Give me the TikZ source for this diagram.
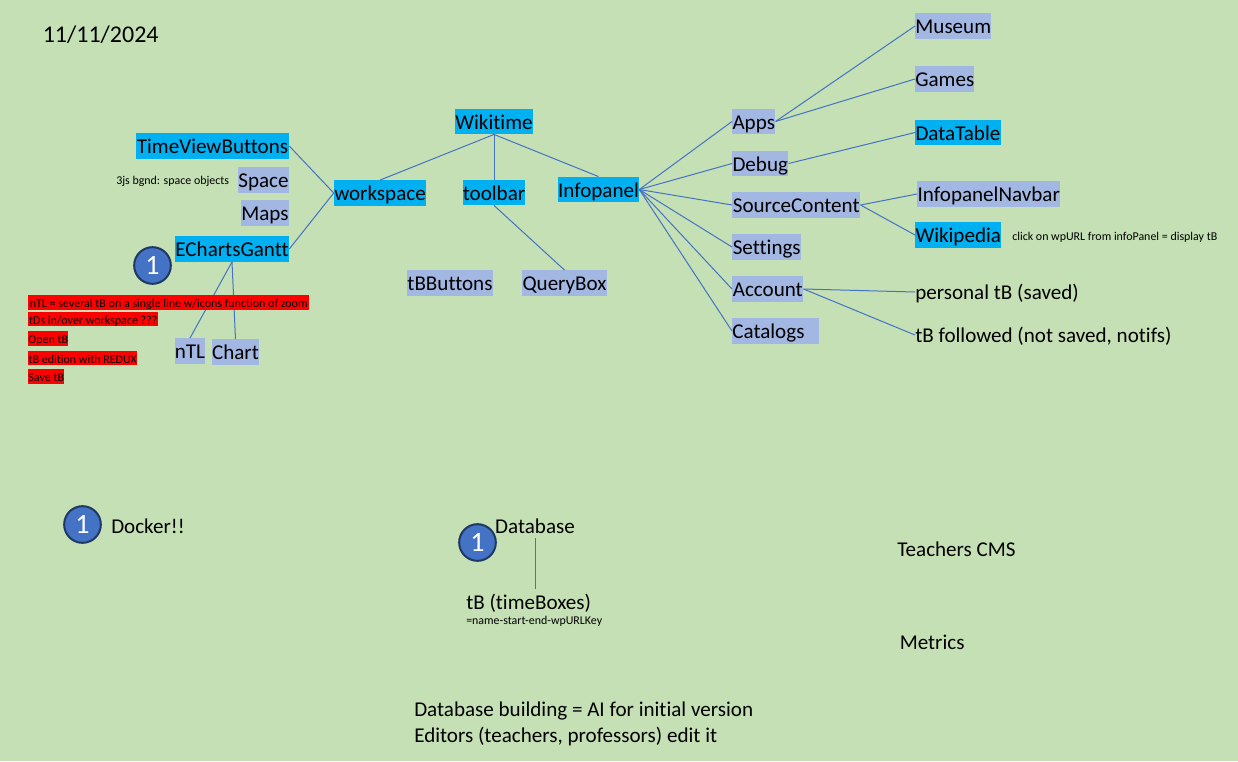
\documentclass[tikz,border=0pt]{standalone}
\usepackage{fontspec}
\setmainfont{Carlito}[Ligatures=NoCommon]
\definecolor{pagegreen}{HTML}{C5E0B4}
\definecolor{mainblue}{HTML}{00B0F0}
\definecolor{subblue}{HTML}{A2B7E2}
\definecolor{linkblue}{HTML}{4472C4}
\definecolor{badgeedge}{HTML}{203864}
\tikzset{
    mainbox/.style={rectangle, inner sep=0pt, fill=mainblue, font=\fontsize{15.8}{18}\selectfont, minimum height=19pt, text height=13pt, text depth=1.3pt},
    subbox/.style={mainbox, fill=subblue},
    redbox/.style={rectangle, anchor=west, inner sep=0pt, fill=red, font=\fontsize{9}{11}\selectfont, minimum height=11pt, text height=8.6pt, text depth=0.8pt},
    plain/.style={rectangle, anchor=west, inner sep=0pt, font=\fontsize{15.8}{18}\selectfont, minimum height=19pt, text height=13pt, text depth=1.3pt},
    small/.style={rectangle, anchor=west, inner sep=0pt, font=\fontsize{8.95}{11}\selectfont},
    badge/.style={circle, inner sep=0pt, minimum size=27.5pt, fill=linkblue, draw=badgeedge, line width=1.5pt, text=white, font=\fontsize{21}{23}\selectfont},
    link/.style={draw=linkblue, line width=0.75pt}
}

\begin{document}
\begin{tikzpicture}[x=0.75pt, y=-0.75pt]

    % Background
    \fill [pagegreen] (0,0) rectangle (1238,761);

    % Nodes
    \node (date) [plain, font=\fontsize{18}{20}\selectfont] at (42.5,35) {11/11/2024};

    \node (wikitime) [mainbox, minimum width=58.5pt] at (494,121.5) {Wikitime};
    \node (workspace) [mainbox, minimum width=69pt] at (380,193) {workspace};
    \node (toolbar) [mainbox, minimum width=46.5pt] at (494,192.5) {toolbar};
    \node (infopanel) [mainbox, minimum width=60.75pt] at (598.5,189.5) {Infopanel};
    \node (tbbuttons) [subbox, minimum width=64.5pt] at (450,283) {tBButtons};
    \node (querybox) [subbox, minimum width=63.75pt] at (564.5,283) {QueryBox};

    \node (timeview) [mainbox, minimum width=114.75pt] at (212.5,146) {TimeViewButtons};
    \node (space) [subbox, minimum width=38.25pt] at (263.5,180) {Space};
    \node (maps) [subbox, minimum width=36pt] at (265,213) {Maps};
    \node (gantt) [mainbox, minimum width=85.5pt] at (232,249) {EChartsGantt};
    \node (ntl) [subbox, minimum width=22.5pt] at (190,351) {nTL};
    \node (chart) [subbox, minimum width=35.25pt] at (235.5,352) {Chart};
    \node (spacenote) [small] at (116,181) {3js bgnd: space objects};

    \node (apps) [subbox, anchor=west, minimum width=32.25pt] at (732,121.5) {Apps};
    \node (debug) [subbox, anchor=west, minimum width=42pt] at (732,163.5) {Debug};
    \node (source) [subbox, anchor=west, minimum width=96pt] at (732,205) {SourceContent};
    \node (settings) [subbox, anchor=west, minimum width=51.75pt] at (732,247) {Settings};
    \node (account) [subbox, anchor=west, minimum width=53.25pt] at (732,289) {Account};
    \node (catalogs) [subbox, anchor=west, minimum width=65.25pt] at (732,331) {Catalogs\hspace*{11pt}};

    \node (museum) [subbox, anchor=west, minimum width=57pt] at (915,26) {Museum};
    \node (games) [subbox, anchor=west, minimum width=44.25pt] at (915,79) {Games};
    \node (datatable) [mainbox, anchor=west, minimum width=64pt] at (915,132.5) {DataTable};
    \node (navbar) [subbox, anchor=west, minimum width=107.25pt] at (917,194) {InfopanelNavbar};
    \node (wikipedia) [mainbox, anchor=west, minimum width=64.5pt] at (915,235) {Wikipedia};
    \node (wpnote) [small] at (1012,237) {click on wpURL from infoPanel = display tB};
    \node (personal) [plain] at (915,292) {personal tB (saved)};
    \node (followed) [plain] at (915,335) {tB followed (not saved, notifs)};

    \node (badgegantt) [badge] at (152.5,265.5) {1};
    \node (badgedocker) [badge] at (82.5,524.5) {1};
    \node (badgedata) [badge] at (477.5,542.5) {1};
    \node (docker) [plain] at (111,525.5) {Docker!!};
    \node (database) [plain, anchor=center] at (535,525.5) {Database};
    \node (timeboxes) [plain] at (466,602) {tB (timeBoxes)};
    \node (tbnote) [small] at (466,621) {=name-start-end-wpURLKey};
    \node (teachers) [plain] at (897,549) {Teachers CMS};
    \node (metrics) [plain] at (899.5,642) {Metrics};
    \node (building) [plain] at (414,709) {Database building = AI for initial version};
    \node (editors) [plain] at (414,735) {Editors (teachers, professors) edit it};

    % Arrows
    \draw [link] (wikitime.south) -- (workspace.north);
    \draw [link] (wikitime.south) -- (toolbar.north);
    \draw [link] (wikitime.south) -- (infopanel.north);
    \draw [link] (toolbar.south) -- (querybox.north);
    \draw [link] (timeview.east) -- (workspace.west);
    \draw [link] (gantt.east) -- (workspace.west);
    \draw [link] (gantt.south) -- (ntl.north);
    \draw [link] (gantt.south) -- (chart.north);
    \draw [link] (infopanel.east) -- (apps.west);
    \draw [link] (infopanel.east) -- (debug.west);
    \draw [link] (infopanel.east) -- (source.west);
    \draw [link] (infopanel.east) -- (settings.west);
    \draw [link] (infopanel.east) -- (account.west);
    \draw [link] (infopanel.east) -- (catalogs.west);
    \draw [link] (apps.east) -- (museum.west);
    \draw [link] (apps.east) -- (games.west);
    \draw [link] (debug.east) -- (datatable.west);
    \draw [link] (source.east) -- (navbar.west);
    \draw [link] (source.east) -- (wikipedia.west);
    \draw [link] (account.east) -- (personal.west);
    \draw [link] (account.east) -- (followed.west);
    \draw [link] (database.south) -- (database.south |- timeboxes.north);

    % Red notes sit on top of the lines
    \node (notea) [redbox, minimum width=210.75pt] at (28,302.5) {nTL = several tB on a single line w/icons function of zoom};
    \node (noteb) [redbox, minimum width=97.5pt] at (28,319) {tDs in/over workspace ???};
    \node (notec) [redbox, minimum width=30pt] at (28,338.5) {Open tB};
    \node (noted) [redbox, minimum width=81.75pt] at (28,358) {tB edition with REDUX};
    \node (notee) [redbox, minimum width=27pt] at (28,376.5) {Save tB};

\end{tikzpicture}
\end{document}
